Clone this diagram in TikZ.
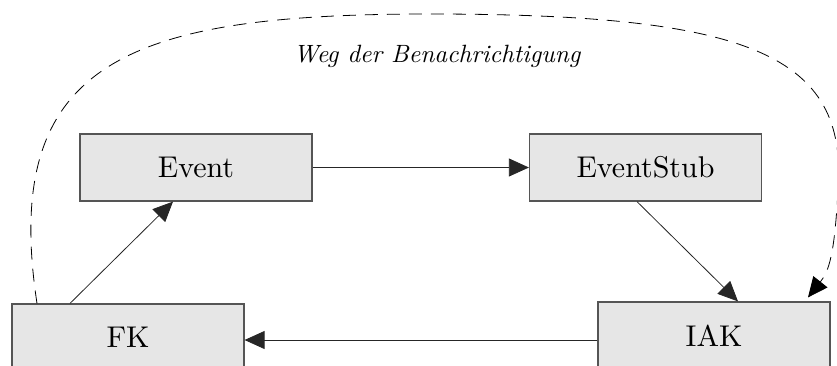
\documentclass[tikz,border=0pt]{standalone}
\usepackage{fontspec}
\newfontfamily\boxface{lmroman10-regular.otf}[ItalicFont=lmroman10-italic.otf]
\usetikzlibrary{arrows.meta}
\definecolor{boxfill}{HTML}{E6E6E6}
\definecolor{boxline}{HTML}{555555}
\tikzset{
  unit/.style={draw=boxline, line width=1.2pt, fill=boxfill,
    minimum width=232pt, minimum height=67pt, inner sep=0pt,
    font=\boxface\fontsize{30}{36}\selectfont},
  flow/.style={draw=black!85, line width=0.8pt,
    -{Triangle[length=20pt,width=18pt]}},
  notify/.style={draw=black, line width=0.8pt, dash pattern=on 13pt off 9pt,
    -{Triangle[length=20pt,width=18pt]}},
  caption/.style={font=\boxface\itshape\fontsize{25}{30}\selectfont, anchor=base}
}
\begin{document}
\begin{tikzpicture}[x=1pt, y=-1pt]
  \useasboundingbox (0,0) rectangle (837,365);

  % components
  \node[unit] (ev)   at (196,167.5)   {Event};
  \node[unit] (stub) at (645.5,167.5) {EventStub};
  \node[unit] (fk)   at (128,337.5)   {FK};
  \node[unit] (iak)  at (714,335.5)   {IAK};

  % call flow
  \draw[flow] (ev.east) -- (stub.west);
  \draw[flow] ([xshift=-8.5pt]stub.south) -- ([xshift=24pt]iak.north);
  \draw[flow] ([yshift=-4.5pt]iak.west) -- ([yshift=-2.5pt]fk.east);
  \draw[flow] ([xshift=-58pt]fk.north) -- ([xshift=-23pt]ev.south);

  % notification path
  \coordinate (ns) at ([xshift=-91pt]fk.north);
  \coordinate (ne) at ([xshift=94pt,yshift=4pt]iak.north);
  \draw[notify] (ns) .. controls (0,60) and (130,14) .. (430,14)
                     .. controls (750,14) and (848,55) .. (838,190)
                     .. controls (834.5,255) and (829,271) .. (ne);
  \node[caption] (lbl) at (437,62) {Weg der Benachrichtigung};
\end{tikzpicture}
\end{document}
